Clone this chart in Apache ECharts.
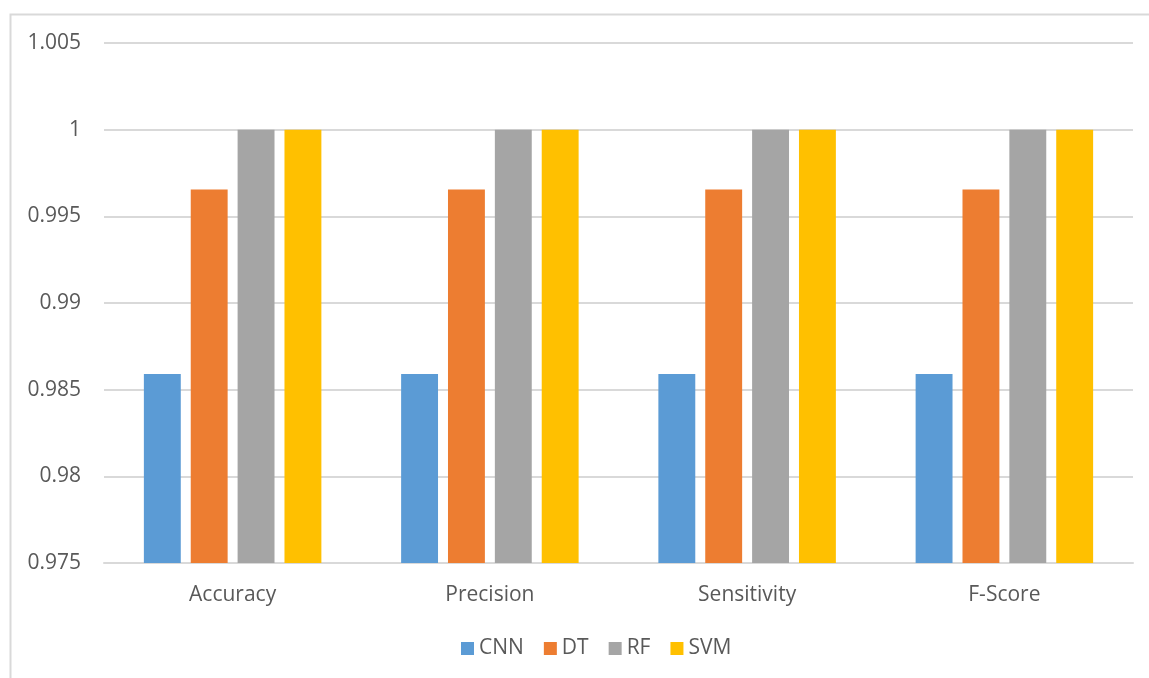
<!DOCTYPE html>
<html>
<head>
<meta charset="utf-8">
<script src="https://cdn.jsdelivr.net/npm/echarts@6/dist/echarts.min.js"></script>
<style>
  html, body { margin: 0; padding: 0; background: #fff; }
  #main { width: 1149px; height: 678px; }
</style>
</head>
<body>
<div id="main"></div>
<script>
// 类别与数值
var categories = ['Accuracy', 'Precision', 'Sensitivity', 'F-Score'];
var seriesNames = ['CNN', 'DT', 'RF', 'SVM'];
var cnnValues = [0.9859, 0.9859, 0.9859, 0.9859];
var dtValues = [0.99655, 0.99655, 0.99655, 0.99655];
var rfValues = [1, 1, 1, 1];
var svmValues = [1, 1, 1, 1];
var colors = ['#5b9bd5', '#ed7d31', '#a5a5a5', '#ffc000'];

var txt = '#595959';
var font = '"Open Sans", "Noto Sans", sans-serif';

var myChart = echarts.init(document.getElementById('main'));
var allValues = [cnnValues, dtValues, rfValues, svmValues];
var series = [];
for (var i = 0; i < seriesNames.length; i++) {
    series.push({
        name: seriesNames[i],
        type: 'bar',
        data: allValues[i],
        barGap: '27%',
        barCategoryGap: '31%',
        itemStyle: { color: colors[i] }
    });
}

var option = {
    animation: false,
    color: colors,
    graphic: [{
        type: 'rect',
        shape: { x: 10.5, y: 14.5, width: 1160, height: 700 },
        style: { fill: 'none', stroke: '#d9d9d9', lineWidth: 2 },
        silent: true
    }],
    grid: { left: 104, right: 16, top: 43, bottom: 115 },
    legend: {
        data: seriesNames,
        bottom: 14,
        left: 456,
        itemWidth: 13,
        itemHeight: 13,
        itemGap: 20,
        icon: 'rect',
        textStyle: { color: txt, fontSize: 21, fontFamily: font }
    },
    xAxis: {
        type: 'category',
        data: categories,
        axisLine: { show: true, lineStyle: { color: '#d9d9d9', width: 2 } },
        axisTick: { show: false },
        axisLabel: { color: txt, fontSize: 21, fontFamily: font, margin: 22 }
    },
    yAxis: {
        type: 'value',
        min: 0.975,
        max: 1.005,
        interval: 0.005,
        axisLine: { show: false },
        axisTick: { show: false },
        splitLine: { lineStyle: { color: '#d9d9d9', width: 2 } },
        axisLabel: {
            color: txt, fontSize: 21, fontFamily: font, margin: 23,
            formatter: function (v) { return String(parseFloat(v.toFixed(3))); }
        }
    },
    series: series
};
myChart.setOption(option);
</script>
</body>
</html>
